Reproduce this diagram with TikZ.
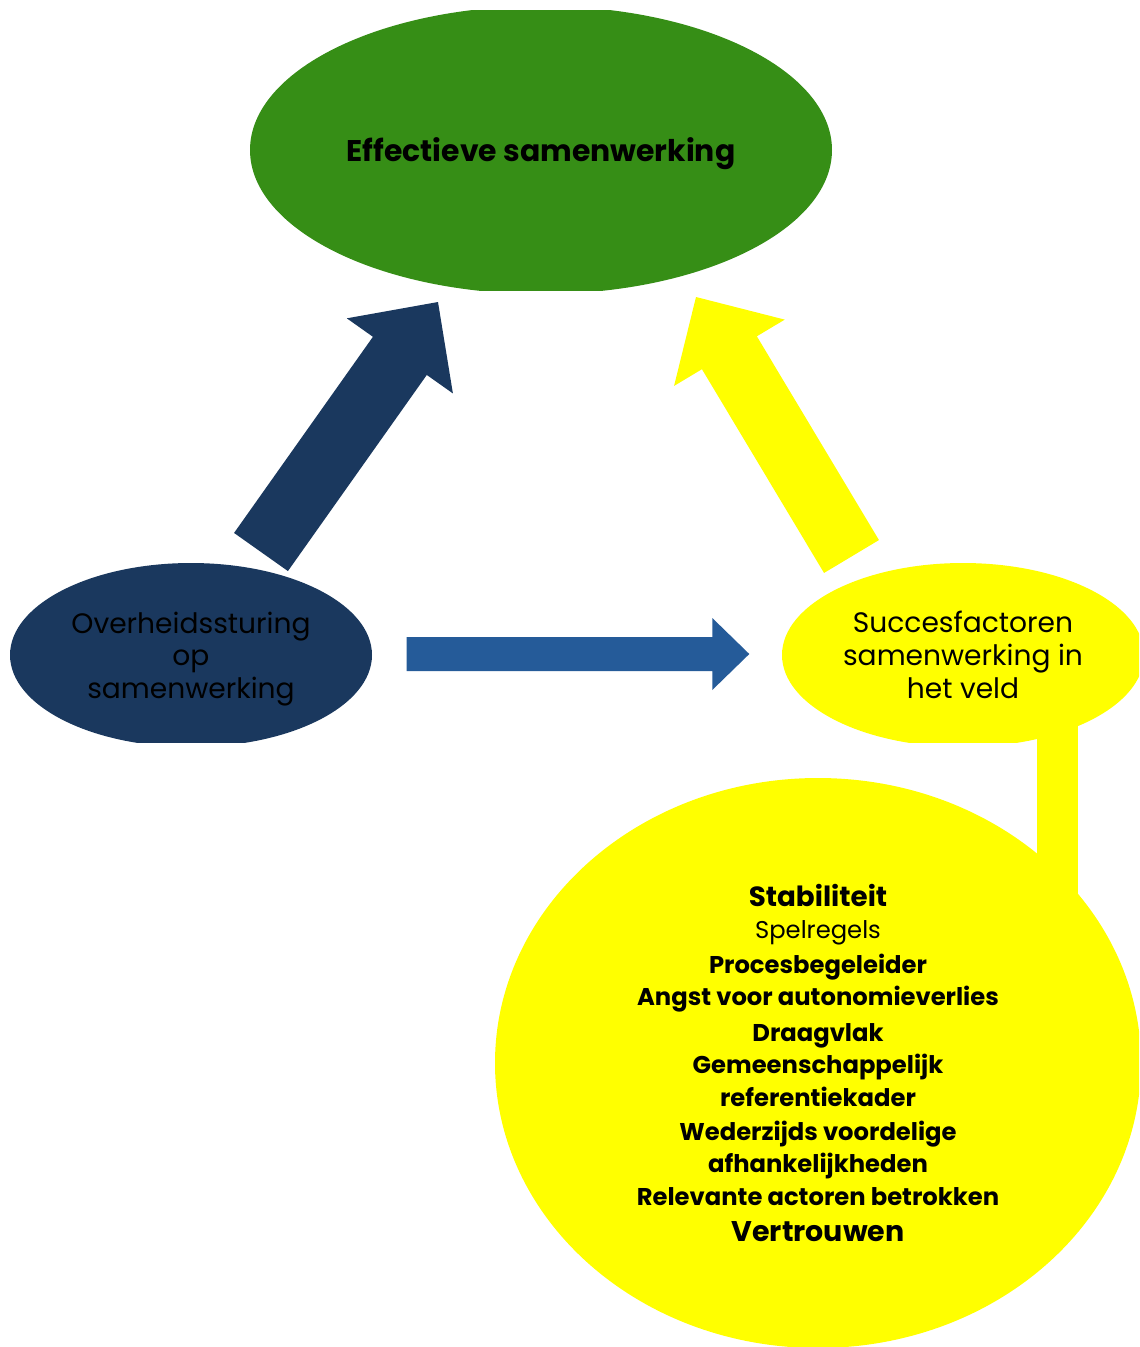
\documentclass[tikz,border=0pt]{standalone}
\usepackage{fontspec}
\setmainfont{Poppins}
\usetikzlibrary{shapes.geometric,calc}

\definecolor{eff-green}{RGB}{54,142,22}
\definecolor{gov-navy}{RGB}{26,56,94}
\definecolor{flow-blue}{RGB}{37,91,153}
\definecolor{field-yellow}{RGB}{255,255,0}

\begin{document}
\begin{tikzpicture}

\useasboundingbox (0,0) rectangle (11.39,-13.47);
\clip (0,0) rectangle (11.39,-13.47);

% stem between the two yellow ellipses
\coordinate (stem) at (10.575,0);
\draw [field-yellow, line width=0.41cm] (stem |- 0,-6.55) -- (stem |- 0,-10.0);


\begin{scope}
\clip (0,-0.10) rectangle (11.39,-2.90);
\node [ellipse, fill=eff-green, inner sep=0pt, minimum width=5.82cm, minimum height=2.88cm,
text depth=0pt, font={\fontsize{8.5}{9.4}\selectfont\bfseries}] (effectief)
 at (5.41,-1.50) {Effectieve samenwerking};
\end{scope}


\begin{scope}
\clip (0,-5.0) rectangle (11.39,-7.42);
\node [ellipse, fill=gov-navy, inner sep=0pt, minimum width=3.62cm, minimum height=1.84cm,
align=center, text depth=0pt, font={\fontsize{8}{9.3}\selectfont}] (overheid)
 at (1.91,-6.55) {Overheidssturing\\ op\\ samenwerking};

\node [ellipse, fill=field-yellow, inner sep=0pt, minimum width=3.62cm, minimum height=1.84cm,
align=center, font={\fontsize{8}{9.3}\selectfont}] (succes)
 at (9.63,-6.55) {Succesfactoren\\ samenwerking in\\ het veld};
\end{scope}


\node [ellipse, fill=field-yellow, inner sep=0pt, minimum width=6.46cm, minimum height=5.70cm,
align=center, font={\fontsize{6.9}{9.2}\selectfont\bfseries}] (factoren)
 at (8.18,-10.63) {
{\fontsize{7.9}{9.2}\selectfont Stabiliteit}\\
{\mdseries\fontsize{6.9}{9.2}\selectfont Spelregels}\\[0.6pt]
Procesbegeleider\\
Angst voor autonomieverlies\\[1pt]
Draagvlak\\
Gemeenschappelijk\\
referentiekader\\[0.6pt]
Wederzijds voordelige\\
afhankelijkheden\\
Relevante actoren betrokken\\[1.2pt]
{\fontsize{8.1}{9.2}\selectfont Vertrouwen}
};


% block arrows
\coordinate (sturing-tail) at (2.61,-5.52);
\coordinate (sturing-tip) at (4.38,-3.02);
\coordinate (veld-tail) at (8.515,-5.565);
\coordinate (veld-tip) at (6.96,-2.97);
\coordinate (flow-tail) at ($(overheid.east)+(0.34,0.01)$);
\coordinate (flow-tip) at ($(succes.west)+(-0.32,0.01)$);

\foreach \tail/\tip/\col/\sw/\hw/\hl in {
  sturing-tail/sturing-tip/gov-navy/0.33cm/0.65cm/0.66cm,
  veld-tail/veld-tip/field-yellow/0.32cm/0.645cm/0.65cm,
  flow-tail/flow-tip/flow-blue/0.17cm/0.36cm/0.37cm}
{
\coordinate (neck) at ($(\tip)!\hl!(\tail)$);
\fill [\col] ($(\tail)!\sw!90:(\tip)$) -- ($(neck)!\sw!90:(\tip)$) -- ($(neck)!\hw!90:(\tip)$)
 -- (\tip) -- ($(neck)!\hw!-90:(\tip)$) -- ($(neck)!\sw!-90:(\tip)$) -- ($(\tail)!\sw!-90:(\tip)$) -- cycle;
}

\end{tikzpicture}
\end{document}
